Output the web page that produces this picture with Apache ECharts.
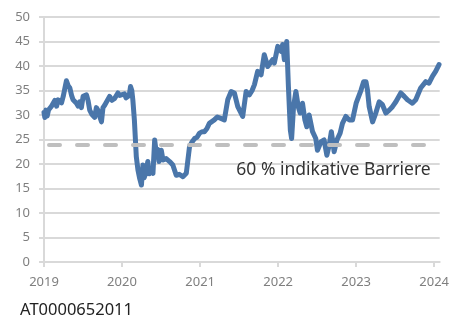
<!DOCTYPE html>
<html>
<head>
<meta charset="utf-8">
<script src="https://cdn.jsdelivr.net/npm/echarts@6/dist/echarts.min.js"></script>
<style>
  body { margin: 0; background: #fff; }
  #chart { width: 452px; height: 317px; }
</style>
</head>
<body>
<div id="chart"></div>
<script>
// Kursverlauf
var dates = [
  '2019-01-01','2019-01-05','2019-01-10','2019-01-16','2019-01-22','2019-01-29','2019-02-05','2019-02-13',
  '2019-02-21','2019-03-01','2019-03-08','2019-03-16','2019-03-24','2019-04-01','2019-04-09','2019-04-16',
  '2019-04-24','2019-05-02','2019-05-10','2019-05-17','2019-06-02','2019-06-10','2019-06-17','2019-06-25',
  '2019-07-03','2019-07-19','2019-07-26','2019-08-03','2019-08-12','2019-08-19','2019-08-26','2019-09-03',
  '2019-09-10','2019-09-19','2019-09-27','2019-10-04','2019-10-12','2019-10-20','2019-11-04','2019-11-15',
  '2019-11-28','2019-12-13','2019-12-22',
  '2020-01-13','2020-01-20','2020-01-27','2020-02-04','2020-02-10','2020-02-16','2020-02-21','2020-02-28',
  '2020-03-08','2020-03-16','2020-03-24','2020-04-01','2020-04-08','2020-04-14','2020-04-21','2020-05-01',
  '2020-05-07','2020-05-13','2020-05-25','2020-06-02','2020-06-10','2020-06-16','2020-06-22','2020-07-03',
  '2020-07-11','2020-07-26','2020-08-11','2020-08-26','2020-09-11','2020-09-25','2020-10-12','2020-10-28',
  '2020-11-12','2020-11-24','2020-12-06','2020-12-18','2020-12-29',
  '2021-01-11','2021-01-21','2021-02-01','2021-02-13','2021-03-08','2021-03-22','2021-04-08','2021-04-24',
  '2021-05-10','2021-05-26','2021-06-10','2021-06-26','2021-07-19','2021-08-04','2021-08-19','2021-09-01',
  '2021-09-12','2021-09-27','2021-10-13','2021-10-28','2021-11-13','2021-12-06','2021-12-14','2021-12-30',
  '2022-01-15','2022-01-22','2022-01-30','2022-02-10','2022-02-18','2022-02-27','2022-03-05','2022-03-14',
  '2022-03-25','2022-04-05','2022-04-14','2022-04-25','2022-05-06','2022-05-15','2022-05-26','2022-06-11',
  '2022-06-26','2022-07-04','2022-07-20','2022-08-04','2022-08-17','2022-08-28','2022-09-07','2022-09-20',
  '2022-10-03','2022-10-18','2022-10-29','2022-11-14','2022-11-29','2022-12-15','2022-12-23',
  '2023-01-01','2023-01-08','2023-01-24','2023-02-05','2023-02-16','2023-02-23','2023-03-03','2023-03-19',
  '2023-04-03','2023-04-19','2023-05-04','2023-05-20','2023-06-05','2023-06-20','2023-07-06','2023-07-29',
  '2023-08-14','2023-08-29','2023-09-21','2023-10-07','2023-10-30','2023-11-23','2023-12-08','2023-12-24',
  '2024-01-08','2024-01-24'
]
var prices = [
  30.5, 29.5, 31, 29.8, 31, 30.8, 31.8, 32,
  33, 31.8, 33.1, 33.5, 32.5, 33.8, 35.5, 37,
  36, 35.5, 34, 33.1, 32.4, 31.8, 32.7, 31.5,
  33.8, 34.1, 33, 31, 30.2, 30, 29.5, 31.5,
  31, 29.7, 28.6, 31.5, 32, 31.8, 33.8, 33,
  33.4, 34.5, 34,
  34.3, 33.5, 33.5, 34, 35.8, 35, 33, 29,
  21.5, 18.7, 17, 15.7, 19.8, 17.2, 18.1, 20.5,
  18, 18.7, 18.1, 24.9, 22.2, 23, 20.5, 22.8,
  20.8, 21.1, 20.5, 19.8, 17.7, 17.9, 17.4, 18.1,
  23.5, 24.5, 25.2, 25.5, 26.3,
  26.6, 26.6, 27.2, 28.3, 29, 29.6, 29.3, 29,
  33.1, 34.8, 34.5, 31.7, 29.7, 34.8, 34.1, 35,
  36.2, 38.9, 38.2, 42.3, 39.9, 41.3, 40.6, 44,
  43, 44.4, 41.3, 45, 35.8, 26.9, 25.2, 31.7,
  34.8, 31.7, 30.4, 32.4, 29, 27.6, 30, 26.6,
  25.2, 22.8, 24.5, 24.9, 21.8, 23.9, 26.6, 22.5,
  24.9, 26.3, 28.3, 29.7, 29, 29, 29,
  32.4, 32.4, 35.1, 36.8, 36.8, 35.1, 31.7, 28.6,
  30.4, 32.7, 32.1, 30.4, 31, 31.7, 32.7, 34.5,
  33.8, 33.1, 32.4, 33.1, 35.5, 36.8, 36.5, 37.9,
  38.9, 40.3
]
var barrier = 24
var barrierLabel = '60 % indikative Barriere'
var isin = 'AT0000652011'
var yMin = 0, yMax = 50, yStep = 5

var font = 'Noto Sans'
var gridColor = '#d9d9d9'

var myChart = echarts.init(document.getElementById('chart'))

var seriesData = dates.map(function (d, i) { return [d, prices[i]] })

var option = {
  animation: false,
  grid: { left: 44, right: 11, top: 17, bottom: 55 },
  title: {
    text: isin,
    left: 15,
    top: 297,
    textStyle: { fontFamily: font, fontSize: 16.5, fontWeight: 'normal', color: '#222' }
  },
  xAxis: {
    type: 'time',
    min: '2019-01-01',
    max: '2024-01-27',
    minInterval: 365 * 24 * 3600 * 1000,
    maxInterval: 366 * 24 * 3600 * 1000,
    axisLine: { lineStyle: { color: gridColor, width: 2 } },
    axisTick: { show: true, length: 5, lineStyle: { color: gridColor, width: 2 } },
    splitLine: { show: false },
    axisLabel: {
      margin: 14,
      color: '#7f7f7f',
      fontFamily: font,
      fontSize: 13,
      formatter: function (v) { return String(new Date(v).getFullYear()) }
    }
  },
  yAxis: {
    type: 'value',
    min: yMin,
    max: yMax,
    interval: yStep,
    axisLine: { show: true, lineStyle: { color: gridColor, width: 2 } },
    axisTick: { show: true, length: 5, lineStyle: { color: gridColor, width: 2 } },
    splitLine: { lineStyle: { color: gridColor, width: 2 } },
    axisLabel: { margin: 14, color: '#7f7f7f', fontFamily: font, fontSize: 13 }
  },
  series: [
    {
      type: 'line',
      data: seriesData,
      showSymbol: false,
      z: 2,
      lineStyle: { color: '#4a76aa', width: 5, join: 'round', cap: 'round' }
    },
    {
      // Barriere, über der Kurslinie gezeichnet
      type: 'line',
      data: [],
      z: 5,
      markLine: {
        silent: true,
        symbol: 'none',
        lineStyle: { color: '#bfbfbf', width: 4, type: [11, 17], cap: 'round', dashOffset: -5 },
        label: {
          position: 'insideEndBottom',
          distance: [9, 17],
          formatter: barrierLabel,
          fontFamily: font,
          fontSize: 17.5,
          color: '#333'
        },
        data: [{ yAxis: barrier }]
      }
    }
  ]
}

myChart.setOption(option)
</script>
</body>
</html>
